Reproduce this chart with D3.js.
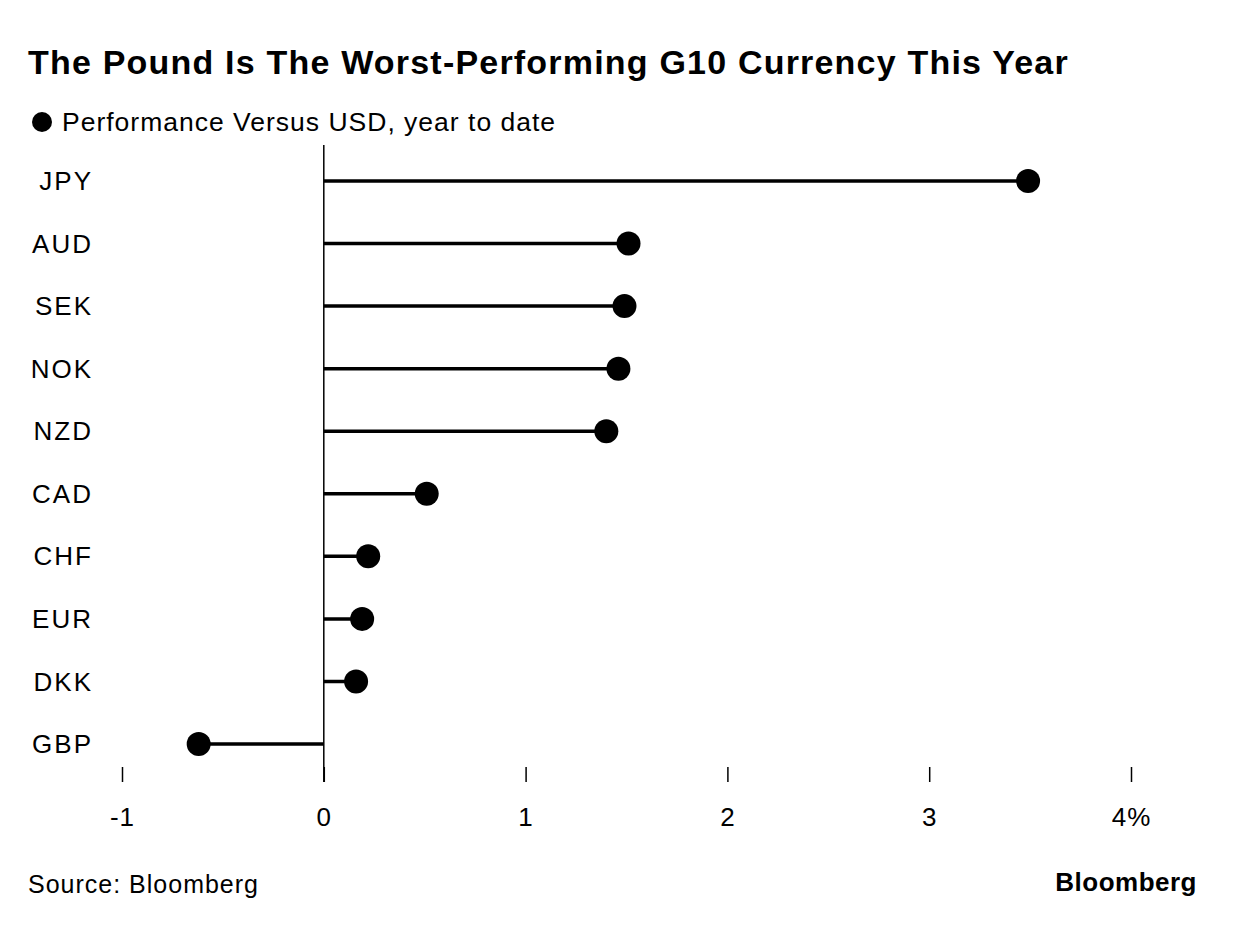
<!DOCTYPE html>
<html>
<head>
<meta charset="utf-8">
<script src="https://cdn.jsdelivr.net/npm/d3@7"></script>
<style>
  body { margin: 0; background: #fff; }
  text { font-family: "Liberation Sans", Arial, sans-serif; fill: #000; }
</style>
</head>
<body>
<svg id="chart"></svg>
<script>
const currencies = ["JPY", "AUD", "SEK", "NOK", "NZD", "CAD", "CHF", "EUR", "DKK", "GBP"];
const performance = [3.49, 1.51, 1.49, 1.46, 1.40, 0.51, 0.22, 0.19, 0.16, -0.62];
const xTicks = [-1, 0, 1, 2, 3, 4];

const width = 1237, height = 942;
const svg = d3.select("#chart").attr("width", width).attr("height", height);

const x = d3.scaleLinear().domain([-1, 4]).range([122, 1131]);
const y = d3.scalePoint().domain(currencies).range([181, 744]);

// title + legend
svg.append("text")
  .attr("x", 28).attr("y", 74)
  .style("font-size", "34px").style("font-weight", "bold")
  .style("letter-spacing", "1.2px")
  .text("The Pound Is The Worst-Performing G10 Currency This Year");

svg.append("circle").attr("cx", 42).attr("cy", 122).attr("r", 10).attr("fill", "#000");
svg.append("text")
  .attr("x", 62).attr("y", 131)
  .style("font-size", "26.5px").style("letter-spacing", "1px")
  .text("Performance Versus USD, year to date");

// x axis (ticks only)
const xAxis = svg.append("g")
  .attr("transform", "translate(0,782)")
  .call(d3.axisBottom(x).tickValues(xTicks).tickSize(-15).tickPadding(26)
    .tickFormat(d => d === 4 ? "4%" : String(d)));
xAxis.select(".domain").remove();
xAxis.selectAll("line").attr("stroke", "#000").attr("stroke-width", 1.5);
xAxis.selectAll("text").style("font-size", "26px").style("letter-spacing", "1px")
  .attr("fill", "#000")
  .style("font-family", "'Liberation Sans', Arial, sans-serif");

// zero line
svg.append("line")
  .attr("x1", x(0)).attr("x2", x(0))
  .attr("y1", 145).attr("y2", 782)
  .attr("stroke", "#000").attr("stroke-width", 1.5);

// category labels
svg.append("g").selectAll("text")
  .data(currencies)
  .join("text")
  .attr("x", 93).attr("y", d => y(d))
  .attr("dy", "0.35em")
  .attr("text-anchor", "end")
  .style("font-size", "26px").style("letter-spacing", "2px")
  .text(d => d);

const rows = currencies.map((c, i) => ({ c, v: performance[i] }));

svg.append("g").selectAll("line")
  .data(rows)
  .join("line")
  .attr("x1", x(0)).attr("x2", d => x(d.v))
  .attr("y1", d => y(d.c)).attr("y2", d => y(d.c))
  .attr("stroke", "#000").attr("stroke-width", 3.5);

svg.append("g").selectAll("circle")
  .data(rows)
  .join("circle")
  .attr("cx", d => x(d.v)).attr("cy", d => y(d.c))
  .attr("r", 12).attr("fill", "#000");

// footer
svg.append("text")
  .attr("x", 28).attr("y", 893)
  .style("font-size", "25px").style("letter-spacing", "1px")
  .text("Source: Bloomberg");

svg.append("text")
  .attr("x", 1197).attr("y", 891)
  .attr("text-anchor", "end")
  .style("font-size", "26px").style("font-weight", "bold")
  .style("letter-spacing", "0.5px")
  .text("Bloomberg");
</script>
</body>
</html>
